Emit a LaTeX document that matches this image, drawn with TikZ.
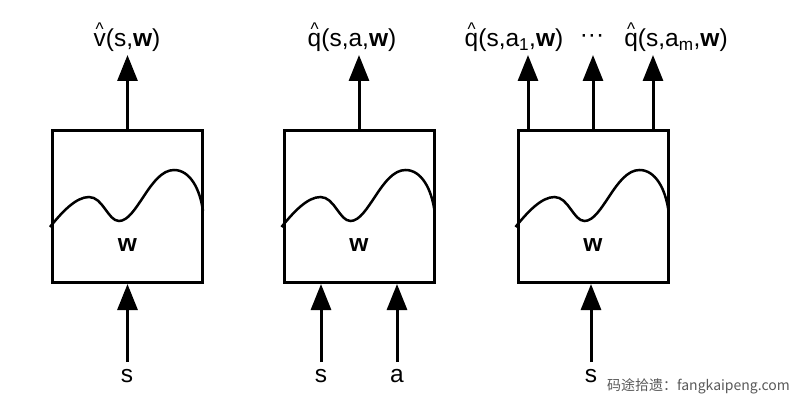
\documentclass[tikz,border=0pt]{standalone}
\usepackage{fontspec}
\setmainfont{Liberation Sans}
\newfontfamily\cjk{Noto Sans CJK SC}
\usetikzlibrary{arrows.meta}
\tikzset{
  netbox/.style={draw,line width=3pt,minimum width=150pt,minimum height=152pt,inner sep=0pt},
  lbl/.style={anchor=base,inner sep=0pt,font=\fontsize{24.5}{29}\selectfont},
}
\newcommand{\hatted}[1]{\ooalign{#1\cr\hidewidth\raisebox{0.48em}{\scalebox{0.7}[0.75]{\^{}}}\hidewidth\cr}}

\begin{document}
\begin{tikzpicture}[line join=miter,>={Triangle[length=26pt,width=20pt]},x=1pt,y=-1pt]
\useasboundingbox (0,0) rectangle (800,401);
\node[netbox] (b1) at (127.5,206.5) {};
\node[netbox] (b2) at (359,206.5) {};
\node[netbox] (b3) at (593,206.5) {};
\coordinate (toprow) at (0,55);
\coordinate (botrow) at (0,362);
\foreach \b in {b1,b2,b3}{
  \begin{scope}[shift={(\b.north west)}]
    \draw[line width=2.5pt] (-1,98) .. controls (11,83) and (25,68) .. (38,68)
      .. controls (52,68) and (57,92) .. (68,92)
      .. controls (86,92) and (99,41) .. (123,41)
      .. controls (139,41) and (149,60) .. (152,82);
  \end{scope}
  \node[lbl] (w-\b) at ([yshift=-122pt]\b.north) {\textbf{w}};
}
% outputs
\draw[->,line width=3pt] (b1.north) -- (b1.north |- toprow);
\draw[->,line width=3pt] (b2.north) -- (b2.north |- toprow);
\foreach \dx in {-65,0,60}
  \draw[->,line width=3pt] ([xshift=\dx pt]b3.north) -- ([xshift=\dx pt]b3.north |- toprow);
\node[lbl] (out1) at (127,47) {\hatted{v}(s,\textbf{w})};
\node[lbl] (out2) at (352,47) {\hatted{q}(s,a,\textbf{w})};
\node[lbl] (out3a) at (514,47) {\hatted{q}(s,a\textsubscript{1},\textbf{w})};
\node[lbl] (dots) at (592,47) {\raisebox{0.2em}{\textperiodcentered\textperiodcentered\textperiodcentered}};
\node[lbl] (out3m) at (676,47) {\hatted{q}(s,a\textsubscript{m},\textbf{w})};
% inputs
\draw[->,line width=3pt] (b1.south |- botrow) -- (b1.south);
\foreach \dx in {-38,38}
  \draw[->,line width=3pt] ([xshift=\dx pt]b2.south |- botrow) -- ([xshift=\dx pt]b2.south);
\draw[->,line width=3pt] ([xshift=-2pt]b3.south |- botrow) -- ([xshift=-2pt]b3.south);
\node[lbl] (in1) at (127,382) {s};
\node[lbl] (in2s) at (321,382) {s};
\node[lbl] (in2a) at (397,382) {a};
\node[lbl] (in3) at (591,382) {s};
\node[anchor=base east,inner sep=0pt,text=black!65,font=\cjk\fontsize{14}{16}\selectfont] (mark) at (790,390) {码途拾遗：fangkaipeng.com};
\end{tikzpicture}
\end{document}
